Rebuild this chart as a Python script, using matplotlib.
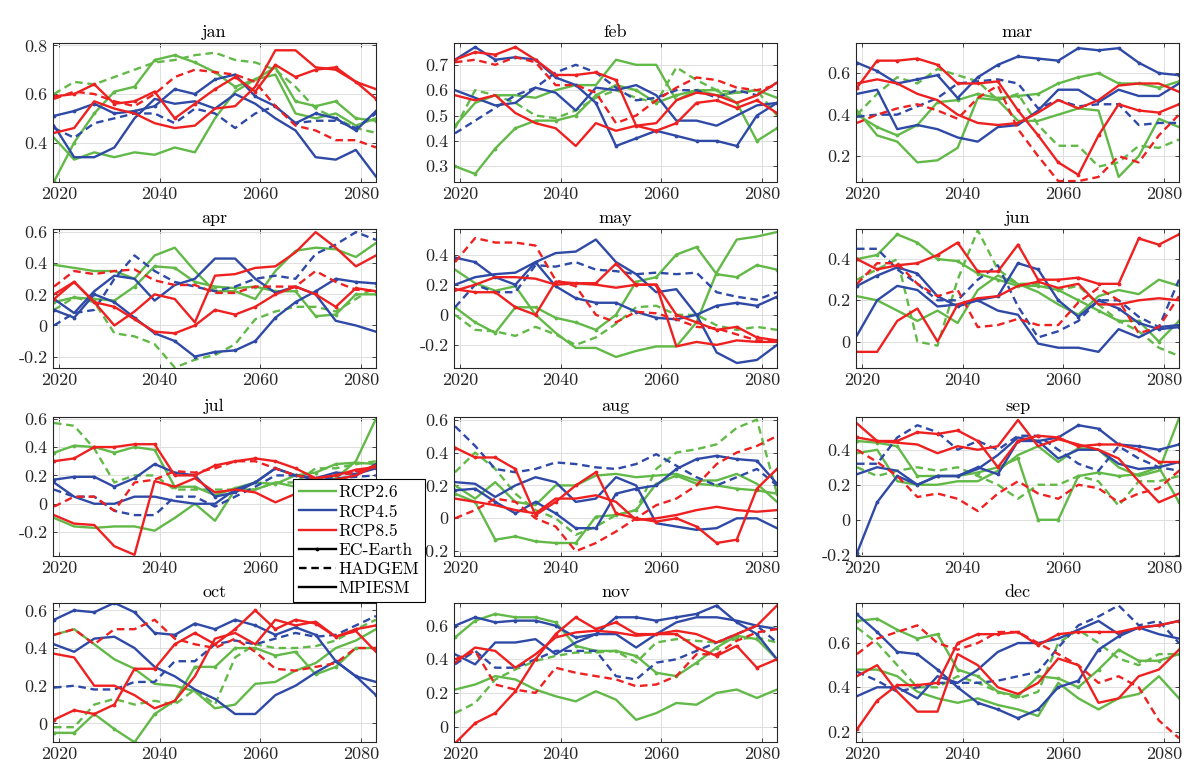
import matplotlib
matplotlib.use("Agg")
import matplotlib.pyplot as plt
from matplotlib.lines import Line2D
from matplotlib.ticker import FuncFormatter, FixedLocator

plt.rcParams['font.family'] = ['cmr10', 'DejaVu Serif']
plt.rcParams['axes.unicode_minus'] = False
plt.rcParams['mathtext.fontset'] = 'cm'

YEARS = [2019, 2023, 2027, 2031, 2035, 2039, 2043, 2047, 2051, 2055, 2059, 2063, 2067, 2071, 2075, 2079, 2083]
MONTHS = ['jan', 'feb', 'mar', 'apr', 'may', 'jun', 'jul', 'aug', 'sep', 'oct', 'nov', 'dec']
SCENARIOS = ['RCP2.6', 'RCP4.5', 'RCP8.5']
MODELS = ['EC-Earth', 'HADGEM', 'MPIESM']
XTICKS = [2020, 2040, 2060, 2080]

# each list: [EC-Earth, HADGEM, MPIESM]
JAN_RCP26 = [[0.24, 0.40, 0.52, 0.61, 0.63, 0.74, 0.76, 0.73, 0.69, 0.63, 0.66, 0.71, 0.57, 0.55, 0.57, 0.50, 0.49],
             [0.60, 0.65, 0.64, 0.67, 0.70, 0.73, 0.74, 0.76, 0.77, 0.74, 0.73, 0.70, 0.63, 0.54, 0.50, 0.46, 0.44],
             [0.42, 0.33, 0.36, 0.34, 0.36, 0.35, 0.38, 0.36, 0.50, 0.61, 0.66, 0.68, 0.52, 0.50, 0.52, 0.47, 0.50]]
JAN_RCP45 = [[0.51, 0.53, 0.56, 0.52, 0.53, 0.55, 0.62, 0.60, 0.66, 0.68, 0.59, 0.55, 0.48, 0.52, 0.50, 0.45, 0.53],
             [0.46, 0.42, 0.48, 0.50, 0.52, 0.52, 0.48, 0.54, 0.52, 0.46, 0.52, 0.55, 0.48, 0.49, 0.49, 0.46, 0.52],
             [0.47, 0.34, 0.34, 0.38, 0.50, 0.58, 0.56, 0.57, 0.54, 0.60, 0.56, 0.50, 0.45, 0.34, 0.33, 0.37, 0.26]]
JAN_RCP85 = [[0.59, 0.60, 0.64, 0.56, 0.57, 0.61, 0.50, 0.56, 0.62, 0.67, 0.61, 0.72, 0.67, 0.70, 0.71, 0.65, 0.58],
             [0.58, 0.61, 0.60, 0.57, 0.55, 0.60, 0.67, 0.70, 0.69, 0.68, 0.65, 0.55, 0.47, 0.45, 0.41, 0.41, 0.38],
             [0.44, 0.46, 0.57, 0.54, 0.52, 0.48, 0.46, 0.47, 0.54, 0.55, 0.63, 0.78, 0.78, 0.71, 0.70, 0.65, 0.62]]

FEB_RCP26 = [[0.30, 0.27, 0.37, 0.45, 0.48, 0.48, 0.50, 0.58, 0.62, 0.60, 0.55, 0.58, 0.60, 0.60, 0.55, 0.40, 0.45],
             [0.45, 0.60, 0.58, 0.55, 0.50, 0.49, 0.52, 0.57, 0.60, 0.57, 0.55, 0.69, 0.64, 0.60, 0.59, 0.60, 0.50],
             [0.46, 0.55, 0.58, 0.58, 0.57, 0.60, 0.62, 0.62, 0.72, 0.70, 0.70, 0.56, 0.60, 0.58, 0.59, 0.60, 0.57]]
FEB_RCP45 = [[0.72, 0.77, 0.72, 0.73, 0.72, 0.65, 0.62, 0.55, 0.38, 0.41, 0.44, 0.42, 0.40, 0.40, 0.38, 0.50, 0.55],
             [0.43, 0.48, 0.53, 0.58, 0.61, 0.67, 0.70, 0.67, 0.61, 0.56, 0.57, 0.60, 0.60, 0.57, 0.60, 0.58, 0.63],
             [0.60, 0.57, 0.54, 0.55, 0.61, 0.59, 0.52, 0.61, 0.60, 0.62, 0.58, 0.48, 0.48, 0.46, 0.50, 0.54, 0.55]]
FEB_RCP85 = [[0.72, 0.75, 0.74, 0.77, 0.72, 0.66, 0.66, 0.67, 0.64, 0.46, 0.44, 0.47, 0.55, 0.56, 0.53, 0.56, 0.51],
             [0.71, 0.72, 0.70, 0.73, 0.71, 0.62, 0.62, 0.59, 0.47, 0.50, 0.56, 0.61, 0.65, 0.64, 0.61, 0.60, 0.62],
             [0.58, 0.56, 0.58, 0.51, 0.47, 0.45, 0.38, 0.47, 0.44, 0.46, 0.47, 0.56, 0.59, 0.58, 0.55, 0.58, 0.63]]

MAR_RCP26 = [[0.40, 0.34, 0.30, 0.35, 0.46, 0.47, 0.50, 0.48, 0.49, 0.50, 0.55, 0.58, 0.60, 0.55, 0.55, 0.53, 0.56],
             [0.40, 0.50, 0.58, 0.55, 0.62, 0.59, 0.56, 0.47, 0.50, 0.35, 0.25, 0.25, 0.15, 0.17, 0.25, 0.24, 0.28],
             [0.42, 0.30, 0.27, 0.17, 0.18, 0.24, 0.48, 0.47, 0.37, 0.37, 0.40, 0.43, 0.42, 0.10, 0.20, 0.38, 0.34]]
MAR_RCP45 = [[0.65, 0.61, 0.55, 0.57, 0.59, 0.48, 0.58, 0.64, 0.68, 0.67, 0.66, 0.72, 0.71, 0.72, 0.65, 0.60, 0.59],
             [0.39, 0.40, 0.40, 0.44, 0.48, 0.55, 0.56, 0.57, 0.55, 0.43, 0.47, 0.44, 0.45, 0.45, 0.35, 0.36, 0.36],
             [0.50, 0.52, 0.33, 0.35, 0.33, 0.29, 0.27, 0.34, 0.35, 0.42, 0.52, 0.52, 0.46, 0.52, 0.49, 0.49, 0.55]]
MAR_RCP85 = [[0.53, 0.66, 0.66, 0.67, 0.64, 0.55, 0.55, 0.56, 0.42, 0.30, 0.17, 0.11, 0.30, 0.45, 0.42, 0.41, 0.45],
             [0.36, 0.40, 0.43, 0.45, 0.42, 0.38, 0.48, 0.54, 0.33, 0.20, 0.08, 0.08, 0.10, 0.20, 0.17, 0.30, 0.40],
             [0.55, 0.57, 0.55, 0.50, 0.47, 0.40, 0.36, 0.35, 0.36, 0.41, 0.47, 0.43, 0.47, 0.54, 0.55, 0.55, 0.51]]

APR_RCP26 = [[0.15, 0.18, 0.17, 0.16, 0.25, 0.38, 0.37, 0.28, 0.25, 0.24, 0.25, 0.22, 0.22, 0.06, 0.07, 0.20, 0.20],
             [0.10, 0.18, 0.15, -0.05, -0.07, -0.12, -0.27, -0.22, -0.19, -0.12, 0.04, 0.09, 0.12, 0.12, 0.09, 0.17, 0.25],
             [0.39, 0.37, 0.35, 0.35, 0.30, 0.45, 0.50, 0.35, 0.22, 0.22, 0.17, 0.35, 0.48, 0.50, 0.49, 0.44, 0.53]]
APR_RCP45 = [[0.10, 0.05, 0.20, 0.15, 0.05, -0.05, -0.10, -0.20, -0.17, -0.16, -0.10, 0.05, 0.15, 0.22, 0.30, 0.28, 0.27],
             [0.00, 0.08, 0.10, 0.30, 0.45, 0.35, 0.28, 0.25, 0.22, 0.25, 0.30, 0.32, 0.30, 0.46, 0.52, 0.60, 0.55],
             [0.17, 0.08, 0.22, 0.32, 0.30, 0.16, 0.26, 0.30, 0.43, 0.43, 0.30, 0.21, 0.25, 0.20, 0.03, 0.00, -0.04]]
APR_RCP85 = [[0.17, 0.28, 0.15, 0.12, 0.04, -0.04, -0.05, 0.00, 0.10, 0.07, 0.12, 0.20, 0.25, 0.20, 0.12, 0.24, 0.22],
             [0.25, 0.35, 0.33, 0.35, 0.36, 0.29, 0.26, 0.26, 0.21, 0.21, 0.25, 0.25, 0.25, 0.35, 0.28, 0.23, 0.22],
             [0.20, 0.28, 0.15, 0.00, 0.09, 0.20, 0.17, 0.02, 0.32, 0.33, 0.37, 0.38, 0.47, 0.60, 0.50, 0.38, 0.45]]

MAY_RCP26 = [[0.05, -0.05, -0.12, 0.05, 0.05, -0.02, -0.05, -0.10, 0.00, 0.22, 0.25, 0.40, 0.45, 0.27, 0.25, 0.33, 0.30],
             [0.00, -0.10, -0.11, -0.14, -0.08, -0.13, -0.20, -0.15, -0.06, 0.05, 0.06, 0.00, 0.00, -0.07, -0.10, -0.08, -0.10],
             [0.30, 0.21, 0.16, 0.19, 0.00, -0.12, -0.22, -0.22, -0.28, -0.24, -0.21, -0.21, -0.05, 0.28, 0.50, 0.52, 0.55]]
MAY_RCP45 = [[0.38, 0.35, 0.25, 0.20, 0.35, 0.19, 0.11, 0.08, 0.08, 0.02, -0.02, -0.03, 0.00, 0.06, 0.08, 0.06, 0.12],
             [0.05, 0.20, 0.15, 0.15, 0.33, 0.32, 0.35, 0.30, 0.29, 0.27, 0.28, 0.27, 0.28, 0.15, 0.12, 0.10, 0.15],
             [0.20, 0.25, 0.27, 0.28, 0.35, 0.41, 0.42, 0.50, 0.35, 0.27, 0.15, 0.17, 0.00, -0.25, -0.32, -0.30, -0.20]]
MAY_RCP85 = [[0.17, 0.15, 0.15, 0.05, 0.00, 0.22, 0.21, 0.21, 0.34, 0.20, 0.20, 0.00, -0.05, -0.10, -0.08, -0.15, -0.17],
             [0.35, 0.51, 0.48, 0.48, 0.46, 0.23, 0.19, 0.00, -0.05, 0.02, 0.01, -0.03, -0.08, -0.09, -0.13, -0.17, -0.17],
             [0.16, 0.20, 0.25, 0.25, 0.24, 0.20, 0.21, 0.20, 0.18, 0.20, 0.20, -0.21, -0.18, -0.20, -0.17, -0.18, -0.18]]

JUN_RCP26 = [[0.40, 0.42, 0.52, 0.48, 0.40, 0.39, 0.33, 0.30, 0.27, 0.27, 0.25, 0.20, 0.15, 0.10, 0.10, 0.00, 0.10],
             [0.30, 0.35, 0.40, 0.00, -0.02, 0.30, 0.54, 0.35, 0.28, 0.28, 0.25, 0.27, 0.18, 0.10, 0.05, -0.03, -0.07],
             [0.22, 0.20, 0.15, 0.10, 0.15, 0.09, 0.25, 0.32, 0.28, 0.24, 0.18, 0.13, 0.22, 0.25, 0.23, 0.30, 0.27]]
JUN_RCP45 = [[0.27, 0.32, 0.36, 0.33, 0.22, 0.17, 0.20, 0.22, 0.38, 0.35, 0.20, 0.12, 0.20, 0.16, 0.09, 0.06, 0.07],
             [0.45, 0.45, 0.35, 0.28, 0.20, 0.20, 0.30, 0.37, 0.17, 0.02, 0.05, 0.10, 0.20, 0.20, 0.12, 0.07, 0.30],
             [0.03, 0.20, 0.27, 0.25, 0.17, 0.18, 0.20, 0.15, 0.13, -0.01, -0.03, -0.03, -0.05, 0.06, 0.02, 0.07, 0.08]]
JUN_RCP85 = [[0.40, 0.35, 0.37, 0.38, 0.42, 0.48, 0.34, 0.34, 0.47, 0.30, 0.30, 0.31, 0.28, 0.28, 0.50, 0.47, 0.52],
             [0.28, 0.38, 0.38, 0.28, 0.22, 0.25, 0.07, 0.08, 0.11, 0.08, 0.08, 0.19, 0.26, 0.20, 0.04, 0.07, 0.22],
             [-0.05, -0.05, 0.10, 0.16, 0.00, 0.18, 0.21, 0.22, 0.27, 0.29, 0.26, 0.28, 0.18, 0.18, 0.20, 0.21, 0.20]]

JUL_RCP26 = [[0.36, 0.41, 0.40, 0.36, 0.40, 0.38, 0.12, 0.12, 0.06, 0.11, 0.15, 0.14, 0.20, 0.22, 0.28, 0.29, 0.28],
             [0.57, 0.55, 0.39, 0.15, 0.20, 0.20, 0.10, 0.10, 0.10, 0.10, 0.10, 0.15, 0.15, 0.25, 0.25, 0.28, 0.30],
             [-0.10, -0.16, -0.17, -0.16, -0.16, -0.19, -0.10, 0.00, -0.12, 0.10, 0.10, 0.15, 0.12, 0.15, 0.18, 0.30, 0.60]]
JUL_RCP45 = [[0.17, 0.19, 0.19, 0.12, 0.18, 0.28, 0.22, 0.20, 0.05, 0.08, 0.15, 0.25, 0.20, 0.18, 0.22, 0.21, 0.25],
             [0.10, 0.05, 0.05, -0.05, -0.08, -0.08, 0.05, 0.05, -0.02, 0.05, 0.12, 0.20, 0.20, 0.18, 0.18, 0.19, 0.20],
             [0.15, 0.05, 0.00, 0.00, 0.05, 0.05, 0.02, 0.00, 0.00, 0.10, 0.15, 0.25, 0.20, 0.17, 0.17, 0.20, 0.28]]
JUL_RCP85 = [[0.30, 0.32, 0.40, 0.40, 0.42, 0.42, 0.20, 0.20, 0.27, 0.30, 0.32, 0.30, 0.25, 0.18, 0.20, 0.24, 0.26],
             [-0.02, 0.05, 0.05, -0.05, 0.15, 0.17, 0.23, 0.22, 0.25, 0.30, 0.30, 0.25, 0.20, 0.18, 0.20, 0.22, 0.27],
             [-0.08, -0.14, -0.15, -0.30, -0.36, 0.16, 0.12, 0.18, 0.08, 0.10, 0.08, 0.01, 0.07, 0.15, 0.17, 0.20, 0.27]]

AUG_RCP26 = [[0.15, 0.10, -0.13, -0.11, -0.14, -0.15, -0.15, 0.01, 0.02, 0.05, 0.21, 0.26, 0.21, 0.20, 0.18, 0.17, 0.15],
             [0.28, 0.40, 0.30, 0.15, 0.05, 0.00, -0.10, -0.05, 0.02, 0.05, 0.30, 0.40, 0.42, 0.45, 0.55, 0.60, 0.15],
             [0.20, 0.12, 0.22, 0.10, 0.08, 0.20, 0.20, 0.26, 0.27, 0.25, 0.26, 0.27, 0.23, 0.23, 0.27, 0.21, 0.10]]
AUG_RCP45 = [[0.17, 0.18, 0.10, 0.03, 0.10, 0.03, -0.06, -0.06, 0.15, 0.18, 0.20, 0.30, 0.36, 0.38, 0.36, 0.35, 0.21],
             [0.56, 0.44, 0.30, 0.28, 0.30, 0.34, 0.33, 0.31, 0.30, 0.33, 0.39, 0.32, 0.25, 0.20, 0.25, 0.30, 0.20],
             [0.22, 0.21, 0.13, 0.20, 0.25, 0.22, 0.10, 0.12, 0.25, 0.20, -0.03, -0.05, -0.07, -0.06, 0.00, 0.00, -0.06]]
AUG_RCP85 = [[0.43, 0.37, 0.37, 0.30, 0.02, 0.10, 0.20, 0.28, 0.03, 0.00, -0.02, 0.00, -0.05, -0.15, -0.13, 0.18, 0.30],
             [0.00, 0.05, 0.12, 0.10, 0.00, -0.05, -0.20, -0.15, -0.08, 0.00, 0.08, 0.12, 0.20, 0.33, 0.40, 0.44, 0.50],
             [0.12, 0.10, 0.08, 0.05, 0.03, 0.12, 0.12, 0.14, 0.10, -0.01, 0.00, 0.02, 0.05, 0.07, 0.05, 0.04, 0.05]]

SEP_RCP26 = [[0.45, 0.44, 0.42, 0.25, 0.25, 0.25, 0.27, 0.30, 0.35, 0.00, 0.00, 0.25, 0.27, 0.25, 0.26, 0.30, 0.10],
             [0.30, 0.25, 0.28, 0.30, 0.28, 0.30, 0.25, 0.20, 0.12, 0.20, 0.20, 0.25, 0.22, 0.08, 0.22, 0.22, 0.25],
             [0.38, 0.40, 0.22, 0.20, 0.20, 0.22, 0.22, 0.28, 0.37, 0.42, 0.33, 0.41, 0.40, 0.30, 0.25, 0.28, 0.58]]
SEP_RCP45 = [[-0.19, 0.10, 0.25, 0.20, 0.25, 0.25, 0.30, 0.26, 0.45, 0.45, 0.47, 0.54, 0.52, 0.43, 0.42, 0.40, 0.43],
             [0.32, 0.32, 0.47, 0.54, 0.50, 0.40, 0.45, 0.40, 0.48, 0.48, 0.40, 0.32, 0.28, 0.42, 0.35, 0.30, 0.28],
             [0.26, 0.30, 0.28, 0.20, 0.25, 0.25, 0.29, 0.37, 0.47, 0.45, 0.35, 0.40, 0.40, 0.32, 0.29, 0.30, 0.33]]
SEP_RCP85 = [[0.47, 0.45, 0.45, 0.50, 0.49, 0.51, 0.45, 0.30, 0.45, 0.48, 0.47, 0.42, 0.43, 0.43, 0.40, 0.33, 0.33],
             [0.40, 0.33, 0.25, 0.13, 0.15, 0.12, 0.05, 0.15, 0.22, 0.15, 0.12, 0.20, 0.18, 0.10, 0.15, 0.18, 0.28],
             [0.55, 0.45, 0.44, 0.43, 0.38, 0.42, 0.40, 0.42, 0.57, 0.42, 0.46, 0.43, 0.40, 0.35, 0.22, 0.10, 0.15]]

OCT_RCP26 = [[-0.05, -0.05, 0.05, -0.03, -0.10, 0.05, 0.12, 0.30, 0.30, 0.40, 0.40, 0.36, 0.38, 0.26, 0.30, 0.40, 0.40],
             [-0.02, -0.02, 0.10, 0.13, 0.10, 0.12, 0.10, 0.18, 0.10, 0.35, 0.42, 0.40, 0.40, 0.41, 0.44, 0.50, 0.55],
             [0.47, 0.50, 0.42, 0.34, 0.29, 0.21, 0.20, 0.17, 0.08, 0.10, 0.21, 0.22, 0.28, 0.32, 0.40, 0.44, 0.50]]
OCT_RCP45 = [[0.55, 0.60, 0.59, 0.64, 0.59, 0.48, 0.47, 0.53, 0.50, 0.55, 0.52, 0.47, 0.51, 0.47, 0.33, 0.25, 0.15],
             [0.19, 0.20, 0.18, 0.18, 0.22, 0.22, 0.33, 0.33, 0.42, 0.44, 0.42, 0.45, 0.48, 0.46, 0.47, 0.52, 0.57],
             [0.42, 0.38, 0.45, 0.46, 0.40, 0.30, 0.25, 0.18, 0.13, 0.05, 0.05, 0.15, 0.20, 0.27, 0.33, 0.25, 0.22]]
OCT_RCP85 = [[0.02, 0.07, 0.05, 0.10, 0.29, 0.29, 0.42, 0.48, 0.42, 0.50, 0.60, 0.50, 0.55, 0.53, 0.46, 0.50, 0.52],
             [0.47, 0.50, 0.42, 0.50, 0.50, 0.55, 0.45, 0.42, 0.40, 0.45, 0.38, 0.29, 0.28, 0.30, 0.32, 0.40, 0.40],
             [0.37, 0.35, 0.20, 0.20, 0.15, 0.08, 0.12, 0.25, 0.45, 0.48, 0.42, 0.55, 0.52, 0.54, 0.46, 0.49, 0.38]]

NOV_RCP26 = [[0.53, 0.63, 0.67, 0.65, 0.65, 0.62, 0.48, 0.45, 0.45, 0.42, 0.32, 0.30, 0.38, 0.47, 0.54, 0.52, 0.40],
             [0.08, 0.14, 0.28, 0.34, 0.39, 0.42, 0.44, 0.44, 0.45, 0.38, 0.50, 0.52, 0.51, 0.50, 0.52, 0.53, 0.50],
             [0.22, 0.25, 0.30, 0.28, 0.22, 0.18, 0.15, 0.21, 0.16, 0.04, 0.08, 0.14, 0.13, 0.20, 0.22, 0.17, 0.22]]
NOV_RCP45 = [[0.60, 0.65, 0.62, 0.63, 0.63, 0.60, 0.53, 0.55, 0.65, 0.65, 0.63, 0.65, 0.67, 0.72, 0.62, 0.55, 0.40],
             [0.37, 0.45, 0.35, 0.35, 0.40, 0.45, 0.45, 0.45, 0.30, 0.28, 0.38, 0.40, 0.45, 0.50, 0.55, 0.60, 0.50],
             [0.43, 0.37, 0.50, 0.50, 0.52, 0.43, 0.50, 0.55, 0.55, 0.47, 0.55, 0.62, 0.65, 0.65, 0.63, 0.60, 0.58]]
NOV_RCP85 = [[-0.10, 0.02, 0.08, 0.21, 0.40, 0.55, 0.65, 0.58, 0.62, 0.55, 0.55, 0.55, 0.47, 0.42, 0.48, 0.35, 0.40],
             [0.40, 0.45, 0.25, 0.22, 0.20, 0.35, 0.32, 0.30, 0.28, 0.24, 0.25, 0.30, 0.43, 0.43, 0.51, 0.56, 0.58],
             [0.38, 0.47, 0.45, 0.35, 0.43, 0.53, 0.56, 0.57, 0.56, 0.54, 0.55, 0.57, 0.55, 0.50, 0.55, 0.60, 0.72]]

DEC_RCP26 = [[0.70, 0.71, 0.66, 0.62, 0.64, 0.48, 0.45, 0.38, 0.36, 0.45, 0.44, 0.40, 0.48, 0.57, 0.52, 0.52, 0.55],
             [0.67, 0.60, 0.50, 0.40, 0.40, 0.45, 0.42, 0.38, 0.35, 0.38, 0.60, 0.66, 0.60, 0.53, 0.50, 0.55, 0.55],
             [0.48, 0.48, 0.45, 0.38, 0.35, 0.33, 0.35, 0.32, 0.30, 0.27, 0.42, 0.35, 0.30, 0.35, 0.37, 0.45, 0.35]]
DEC_RCP45 = [[0.73, 0.65, 0.56, 0.55, 0.48, 0.40, 0.33, 0.30, 0.26, 0.30, 0.40, 0.43, 0.57, 0.63, 0.67, 0.68, 0.70],
             [0.47, 0.43, 0.38, 0.40, 0.42, 0.42, 0.42, 0.43, 0.45, 0.47, 0.58, 0.68, 0.72, 0.77, 0.68, 0.70, 0.60],
             [0.36, 0.40, 0.40, 0.35, 0.45, 0.42, 0.48, 0.56, 0.60, 0.60, 0.62, 0.66, 0.70, 0.64, 0.67, 0.64, 0.62]]
DEC_RCP85 = [[0.21, 0.34, 0.41, 0.41, 0.42, 0.60, 0.64, 0.64, 0.65, 0.59, 0.64, 0.65, 0.65, 0.65, 0.67, 0.68, 0.70],
             [0.55, 0.62, 0.65, 0.68, 0.60, 0.57, 0.60, 0.65, 0.65, 0.60, 0.55, 0.50, 0.42, 0.45, 0.40, 0.25, 0.17],
             [0.45, 0.50, 0.38, 0.29, 0.29, 0.55, 0.50, 0.40, 0.37, 0.42, 0.53, 0.50, 0.33, 0.35, 0.45, 0.48, 0.57]]

YLIMS = [(0.24, 0.81), (0.24, 0.786), (0.078, 0.745), (-0.27, 0.62),
         (-0.35, 0.57), (-0.126, 0.546), (-0.365, 0.612), (-0.226, 0.616),
         (-0.204, 0.587), (-0.096, 0.639), (-0.089, 0.735), (0.155, 0.781)]
YTICKS = [[0.4, 0.6, 0.8], [0.3, 0.4, 0.5, 0.6, 0.7], [0.2, 0.4, 0.6], [-0.2, 0, 0.2, 0.4, 0.6],
          [-0.2, 0, 0.2, 0.4], [0, 0.2, 0.4], [-0.2, 0, 0.2, 0.4, 0.6], [-0.2, 0, 0.2, 0.4, 0.6],
          [-0.2, 0, 0.2, 0.4], [0, 0.2, 0.4, 0.6], [0, 0.2, 0.4, 0.6], [0.2, 0.4, 0.6]]

DATA = [[JAN_RCP26, JAN_RCP45, JAN_RCP85], [FEB_RCP26, FEB_RCP45, FEB_RCP85],
        [MAR_RCP26, MAR_RCP45, MAR_RCP85], [APR_RCP26, APR_RCP45, APR_RCP85],
        [MAY_RCP26, MAY_RCP45, MAY_RCP85], [JUN_RCP26, JUN_RCP45, JUN_RCP85],
        [JUL_RCP26, JUL_RCP45, JUL_RCP85], [AUG_RCP26, AUG_RCP45, AUG_RCP85],
        [SEP_RCP26, SEP_RCP45, SEP_RCP85], [OCT_RCP26, OCT_RCP45, OCT_RCP85],
        [NOV_RCP26, NOV_RCP45, NOV_RCP85], [DEC_RCP26, DEC_RCP45, DEC_RCP85]]

COLORS = ['#62B948', '#2E49A6', '#EE2020']
LW = 1.7
MODEL_STYLE = [dict(linestyle='-', marker='.', markersize=3.5),
               dict(linestyle=(0, (3.2, 2.0))),
               dict(linestyle='-')]

W, H = 1200, 782
fig = plt.figure(figsize=(W / 100, H / 100), dpi=100)
col_left = [53, 454, 856]
row_top = [43, 229, 417, 603]
aw, ah = 323, 138.5

fmt = FuncFormatter(lambda v, p: ('%g' % round(v, 3)))

for i, month in enumerate(MONTHS):
    r, c = divmod(i, 3)
    ax = fig.add_axes([col_left[c] / W, 1 - (row_top[r] + ah) / H, aw / W, ah / H])
    for s in range(3):
        for m in range(3):
            ax.plot(YEARS, DATA[i][s][m], color=COLORS[s], linewidth=LW, **MODEL_STYLE[m])
    ax.set_xlim(2018.8, 2083)
    ax.set_ylim(*YLIMS[i])
    ax.xaxis.set_major_locator(FixedLocator(XTICKS))
    ax.yaxis.set_major_locator(FixedLocator(YTICKS[i]))
    ax.yaxis.set_major_formatter(fmt)
    ax.xaxis.set_major_formatter(FuncFormatter(lambda v, p: '%d' % v))
    ax.grid(True, color='#dedede', linewidth=0.7)
    ax.set_axisbelow(True)
    ax.tick_params(direction='in', length=3, width=0.6, top=True, right=True,
                   labelsize=13, colors='#262626', pad=4)
    for sp in ax.spines.values():
        sp.set_color('#262626')
        sp.set_linewidth(0.8)
    ax.set_title(month, fontsize=13, pad=4)
    if month == 'jul':
        # this tick label lies under the legend box in the reference
        ax.get_xticklabels()[-1].set_visible(False)

handles = [Line2D([], [], color=COLORS[s], linewidth=LW) for s in range(3)]
handles += [Line2D([], [], color='black', linewidth=LW, **MODEL_STYLE[m]) for m in range(3)]
labels = SCENARIOS + MODELS
leg = fig.legend(handles, labels, loc='upper left', bbox_to_anchor=(293 / W, 1 - 479 / H),
                 fontsize=12.5, frameon=True, fancybox=False, framealpha=1,
                 edgecolor='black', handlelength=2.1, handletextpad=0.15,
                 labelspacing=0.22, borderpad=0.35, borderaxespad=0)
leg.get_frame().set_linewidth(0.8)

fig.savefig('out.png', dpi=100)
